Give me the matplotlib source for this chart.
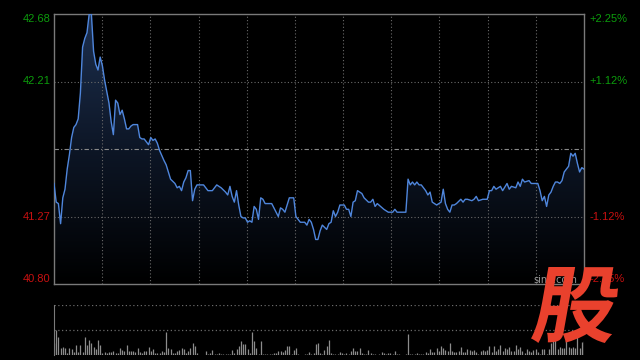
import matplotlib
matplotlib.use('Agg')
import matplotlib.pyplot as plt
from matplotlib.colors import LinearSegmentedColormap
from matplotlib.patches import Polygon, PathPatch
from matplotlib.textpath import TextPath
from matplotlib.font_manager import FontProperties
from matplotlib.transforms import Affine2D, IdentityTransform, blended_transform_factory
import numpy as np

# 分时价格 (分钟序号, 价格)
minutes = [0, 1, 2, 3, 4, 5, 6, 7, 8, 9, 10, 11, 12, 13, 14, 15, 16, 17, 18, 19,
           20, 21, 22, 23, 24, 25, 26, 27, 28, 29, 30, 31, 32, 33, 34, 35, 36, 37, 38, 39,
           40, 41, 42, 43, 44, 45, 46, 47, 48, 50, 51, 52, 53, 55, 56, 57, 58, 59, 60, 61,
           62, 63, 64, 65, 68, 70, 72, 74, 76, 78, 79, 80, 81, 82, 83, 84, 85, 86, 87, 88,
           89, 90, 91, 92, 93, 94, 95, 96, 99, 100, 102, 103, 104, 105, 107, 109, 110, 112, 114, 115,
           116, 117, 118, 119, 120, 121, 122, 124, 125, 126, 127, 128, 129, 130, 132, 133, 134, 135, 136, 137,
           138, 140, 141, 143, 144, 145, 146, 147, 150, 152, 154, 155, 156, 160, 161, 162, 163, 164, 165, 166,
           167, 168, 169, 170, 171, 172, 174, 175, 176, 177, 178, 179, 180, 181, 182, 183, 185, 186, 187, 188,
           190, 191, 192, 193, 195, 197, 198, 199, 200, 201, 203, 204, 206, 207, 208, 210, 211, 212, 213, 214,
           216, 217, 220, 221, 222, 223, 224, 225, 226, 227, 228, 229, 230, 231, 232, 234, 235, 236, 237, 238,
           239, 240, 241]
prices = [41.50, 41.37, 41.36, 41.22, 41.40, 41.46, 41.60, 41.70, 41.82, 41.89, 41.91, 41.95, 42.13, 42.45, 42.51, 42.55, 42.68, 42.68, 42.42, 42.33,
          42.29, 42.38, 42.32, 42.22, 42.14, 42.06, 41.93, 41.84, 42.08, 42.06, 41.98, 42.01, 41.95, 41.88, 41.88, 41.90, 41.91, 41.91, 41.91, 41.82,
          41.81, 41.81, 41.79, 41.77, 41.82, 41.80, 41.81, 41.78, 41.73, 41.66, 41.63, 41.58, 41.53, 41.50, 41.47, 41.48, 41.45, 41.51, 41.54, 41.59,
          41.59, 41.38, 41.46, 41.49, 41.49, 41.45, 41.45, 41.49, 41.47, 41.44, 41.42, 41.48, 41.41, 41.37, 41.45, 41.35, 41.27, 41.26, 41.26, 41.23,
          41.24, 41.23, 41.34, 41.32, 41.25, 41.40, 41.39, 41.36, 41.36, 41.33, 41.27, 41.33, 41.32, 41.30, 41.40, 41.40, 41.27, 41.23, 41.23, 41.21,
          41.25, 41.23, 41.18, 41.11, 41.11, 41.17, 41.21, 41.18, 41.22, 41.23, 41.31, 41.27, 41.30, 41.35, 41.35, 41.32, 41.32, 41.27, 41.37, 41.38,
          41.45, 41.43, 41.40, 41.37, 41.37, 41.39, 41.34, 41.36, 41.32, 41.30, 41.30, 41.32, 41.30, 41.30, 41.53, 41.49, 41.51, 41.49, 41.51, 41.49,
          41.49, 41.47, 41.45, 41.42, 41.44, 41.37, 41.35, 41.36, 41.37, 41.46, 41.36, 41.32, 41.30, 41.35, 41.35, 41.36, 41.39, 41.37, 41.39, 41.39,
          41.38, 41.39, 41.41, 41.38, 41.39, 41.39, 41.45, 41.45, 41.48, 41.46, 41.48, 41.45, 41.50, 41.46, 41.48, 41.47, 41.51, 41.48, 41.53, 41.51,
          41.52, 41.50, 41.50, 41.45, 41.38, 41.41, 41.34, 41.42, 41.44, 41.48, 41.51, 41.51, 41.50, 41.52, 41.58, 41.62, 41.71, 41.69, 41.71, 41.64,
          41.58, 41.61, 41.60]

# 成交量 (每分钟)
volumes = [117, 250, 177, 67, 77, 67, 17, 67, 60, 33, 100, 33, 100, 33, 177, 100, 150, 117, 83, 60,
           150, 100, 17, 27, 17, 27, 27, 37, 23, 23, 73, 50, 40, 100, 40, 40, 40, 27, 70, 33,
           17, 40, 40, 77, 43, 57, 23, 17, 17, 40, 33, 230, 67, 60, 23, 17, 40, 50, 67, 57,
           23, 43, 67, 117, 90, 17, 5, 5, 5, 40, 10, 20, 50, 10, 13, 23, 10, 10, 10, 10,
           10, 50, 23, 57, 90, 140, 110, 110, 57, 23, 230, 140, 67, 10, 140, 10, 10, 10, 10, 10,
           23, 17, 40, 40, 27, 50, 90, 90, 10, 50, 67, 10, 5, 5, 10, 10, 27, 10, 23, 110,
           123, 23, 10, 50, 90, 150, 23, 10, 10, 10, 30, 17, 10, 17, 10, 43, 67, 40, 43, 73,
           17, 10, 10, 50, 17, 10, 10, 5, 10, 30, 17, 10, 17, 17, 10, 40, 10, 10, 5, 5,
           10, 210, 10, 10, 10, 17, 10, 10, 10, 33, 20, 57, 33, 33, 67, 43, 90, 67, 50, 43,
           117, 43, 33, 33, 43, 77, 33, 33, 60, 50, 43, 50, 27, 10, 37, 50, 37, 50, 90, 30,
           90, 37, 60, 97, 43, 67, 57, 77, 40, 40, 100, 57, 83, 43, 17, 57, 43, 33, 50, 63,
           33, 10, 63, 57, 10, 57, 117, 167, 150, 57, 83, 67, 67, 150, 83, 67, 77, 67, 250, 67,
           130, 140]

prev_close = 41.74
left_ticks = [42.68, 42.21, 41.27, 40.80]
left_labels = ['42.68', '42.21', '41.27', '40.80']
right_labels = ['+2.25%', '+1.12%', '-1.12%', '-2.25%']

green = '#0c9c0c'
red = '#c81010'
grid_col = '#6a6a6a'
frame_col = '#7a7a7a'

fig = plt.figure(figsize=(6.4, 3.6), dpi=100)
fig.patch.set_facecolor('#000000')

# 主图
ax = fig.add_axes([54 / 640, 1 - 284 / 360, 530 / 640, 270 / 360])
ax.set_facecolor('#000000')
ax.set_xlim(0, 241)
ax.set_ylim(40.80, 42.68)

# 渐变填充
cmap = LinearSegmentedColormap.from_list('fill', ['#000000', '#0d1626', '#1d3050'])
grad = np.linspace(0, 1, 256).reshape(-1, 1)
im = ax.imshow(grad, extent=[0, 241, 40.80, 42.68], aspect='auto', cmap=cmap,
               origin='lower', zorder=1)
verts = list(zip(minutes, prices)) + [(minutes[-1], 40.80), (minutes[0], 40.80)]
poly = Polygon(verts, closed=True, facecolor='none', edgecolor='none')
ax.add_patch(poly)
im.set_clip_path(poly)

ax.plot(minutes, prices, color='#4f86dc', linewidth=1.0, zorder=4)

# 网格线
for i in range(1, 11):
    ax.axvline(i * 241 / 11, color=grid_col, linewidth=0.8, linestyle=(0, (1, 2)), zorder=2)
for p in [42.21, 41.27]:
    ax.axhline(p, color=grid_col, linewidth=0.8, linestyle=(0, (1, 2)), zorder=2)
ax.axhline(prev_close, color='#8a8a8a', linewidth=0.8, linestyle=(0, (4, 2, 1, 2)), zorder=2)

for s in ax.spines.values():
    s.set_color(frame_col)
    s.set_linewidth(1.0)
ax.set_xticks([])
ax.set_yticks([])

tr = blended_transform_factory(ax.transAxes, ax.transData)
for i, p in enumerate(left_ticks):
    c = green if p > prev_close else red
    va = 'top' if i == 0 else ('bottom' if i == 3 else 'center')
    ax.text(-0.006, p, left_labels[i], color=c, fontsize=8, ha='right', va=va,
            transform=tr, family='Liberation Sans')
    ax.text(1.01, p, right_labels[i], color=c, fontsize=8, ha='left', va=va,
            transform=tr, family='Liberation Sans')

# 成交量
axv = fig.add_axes([54 / 640, 1 - 355 / 360, 530 / 640, 50 / 360])
axv.set_facecolor('#000000')
axv.set_xlim(0, 241)
axv.set_ylim(0, 500)
axv.vlines(range(len(volumes)), 0, volumes, color='#8c8c8c', linewidth=0.9)
for v in [250, 500]:
    axv.axhline(v, color=grid_col, linewidth=0.9, linestyle=(0, (1, 2)))
for k in ['top', 'right', 'bottom']:
    axv.spines[k].set_visible(False)
axv.spines['left'].set_color(frame_col)
axv.set_xticks([])
axv.set_yticks([])

fig.text(533 / 640, 1 - 280 / 360, 'sina.com', color='#9a9a9a', fontsize=7,
         ha='left', va='center')

# 水印 "股"
fp = FontProperties(family='Noto Sans CJK SC', weight='heavy')
tp = TextPath((0, 0), '股', size=100, prop=fp)
skewed = Affine2D().skew_deg(10, 0).transform_path(tp)
ext = skewed.get_extents()
fit = Affine2D().translate(-ext.x0, -ext.y0).scale((618 - 531) / ext.width,
                                                   (93 - 17) / ext.height).translate(531, 17)
wm = PathPatch(fit.transform_path(skewed), facecolor='#e9412d', edgecolor='none',
               transform=IdentityTransform(), zorder=10)
fig.add_artist(wm)

fig.savefig('out.png', dpi=100, facecolor=fig.get_facecolor())
